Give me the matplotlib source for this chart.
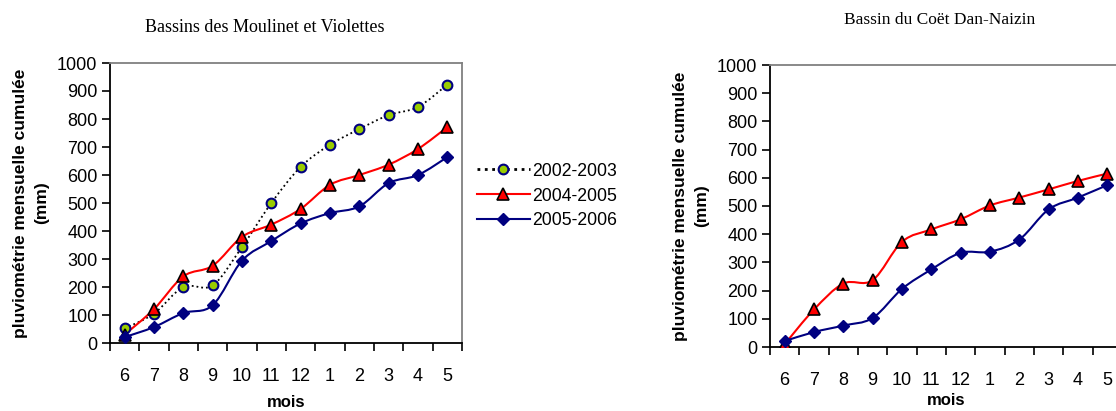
import matplotlib.pyplot as plt
import numpy as np
from matplotlib.path import Path
from matplotlib.patches import PathPatch
from matplotlib.lines import Line2D

plt.rcParams['font.family'] = ['Liberation Sans', 'DejaVu Sans']

mois = ['6', '7', '8', '9', '10', '11', '12', '1', '2', '3', '4', '5']

# Bassins des Moulinet et Violettes
mv_2002_2003 = [52, 105, 200, 206, 343, 500, 629, 708, 764, 814, 843, 923]
mv_2004_2005 = [30, 121, 238, 276, 379, 423, 479, 565, 600, 637, 693, 771]
mv_2005_2006 = [21, 57, 107, 135, 294, 364, 427, 464, 488, 571, 600, 664]

# Bassin du Coet Dan-Naizin
cd_2004_2005 = [10, 133, 225, 237, 373, 417, 453, 502, 530, 559, 589, 615]
cd_2005_2006 = [21, 53, 76, 103, 206, 275, 334, 338, 381, 488, 530, 574]

styles = {
    '2002-2003': dict(color='black', ls=':', lw=1.3, marker='o', mfc='#99cc00',
                      mec='#000080', ms=7, mew=1.5),
    '2004-2005': dict(color='#ff0000', ls='-', lw=1.5, marker='^', mfc='#ff0000',
                      mec='black', ms=8, mew=1.2),
    '2005-2006': dict(color='#000080', ls='-', lw=1.5, marker='D', mfc='#000080',
                      mec='#000080', ms=6, mew=1),
}


def smooth_path(x, y):
    # excel-like smoothed line, bezier segments through the points
    pts = np.column_stack([x, y]).astype(float)
    n = len(pts)
    verts = [pts[0]]
    codes = [Path.MOVETO]
    for i in range(n - 1):
        p0 = pts[max(i - 1, 0)]
        p1 = pts[i]
        p2 = pts[i + 1]
        p3 = pts[min(i + 2, n - 1)]
        c1 = p1 + (p2 - p0) / 6.0
        c2 = p2 - (p3 - p1) / 6.0
        verts += [c1, c2, p2]
        codes += [Path.CURVE4] * 3
    return Path(verts, codes)


def draw_series(ax, values, name):
    st = styles[name]
    x = np.arange(len(values)) + 0.5
    patch = PathPatch(smooth_path(x, values), fill=False, edgecolor=st['color'],
                      linestyle=st['ls'], lw=st['lw'], zorder=2)
    ax.add_patch(patch)
    ax.plot(x, values, ls='none', marker=st['marker'], mfc=st['mfc'],
            mec=st['mec'], ms=st['ms'], mew=st['mew'], zorder=3)


def setup_axes(ax, xpad):
    ax.set_xlim(0, 12)
    ax.set_ylim(0, 1000)
    ax.set_yticks(np.arange(0, 1001, 100))
    ax.set_xticks(np.arange(0, 13))
    ax.set_xticklabels([])
    ax.set_xticks(np.arange(12) + 0.5, minor=True)
    ax.set_xticklabels(mois, minor=True)
    ax.tick_params(axis='x', which='major', length=6, width=1.2, direction='out')
    ax.tick_params(axis='x', which='minor', length=0, pad=18, labelsize=13)
    ax.tick_params(axis='y', length=6, width=1.2, direction='out', pad=3, labelsize=13)
    for s in ['left', 'bottom']:
        ax.spines[s].set_color('black')
        ax.spines[s].set_linewidth(1.3)
    for s in ['top', 'right']:
        ax.spines[s].set_color('#808080')
        ax.spines[s].set_linewidth(1.3)
    ax.set_xlabel('mois', fontweight='bold', fontsize=12, labelpad=xpad)
    ax.set_ylabel('pluviométrie mensuelle cumulée\n(mm)', fontweight='bold',
                  fontsize=12.5, labelpad=6, linespacing=1.45)


fig = plt.figure(figsize=(11.16, 4.11), dpi=100)

ax1 = fig.add_axes([110 / 1116, 68 / 411, 352 / 1116, 280 / 411])
setup_axes(ax1, 7)
draw_series(ax1, mv_2002_2003, '2002-2003')
draw_series(ax1, mv_2004_2005, '2004-2005')
draw_series(ax1, mv_2005_2006, '2005-2006')
fig.text(265 / 1116, 1 - 28 / 411, 'Bassins des Moulinet et Violettes',
         family='Liberation Serif', fontsize=13, ha='center', va='center')

handles = [Line2D([], [], color=styles[k]['color'], ls=styles[k]['ls'],
                  lw=2 if k == '2002-2003' else 1.5, marker=styles[k]['marker'],
                  mfc=styles[k]['mfc'], mec=styles[k]['mec'], ms=styles[k]['ms'],
                  mew=styles[k]['mew']) for k in styles]
fig.legend(handles, list(styles.keys()), loc='center left',
           bbox_to_anchor=(477 / 1116, 1 - 196 / 411), frameon=False,
           fontsize=12.7, handlelength=3.0, handletextpad=0.1, labelspacing=0.45,
           borderpad=0, borderaxespad=0)

ax2 = fig.add_axes([770 / 1116, 64 / 411, 352 / 1116, 282 / 411])
setup_axes(ax2, 3)
draw_series(ax2, cd_2004_2005, '2004-2005')
draw_series(ax2, cd_2005_2006, '2005-2006')
fig.text(940 / 1116, 1 - 20 / 411, 'Bassin du Coët Dan-Naizin',
         family='Liberation Serif', fontsize=12.5, ha='center', va='center')

fig.savefig('out.png', dpi=100)
